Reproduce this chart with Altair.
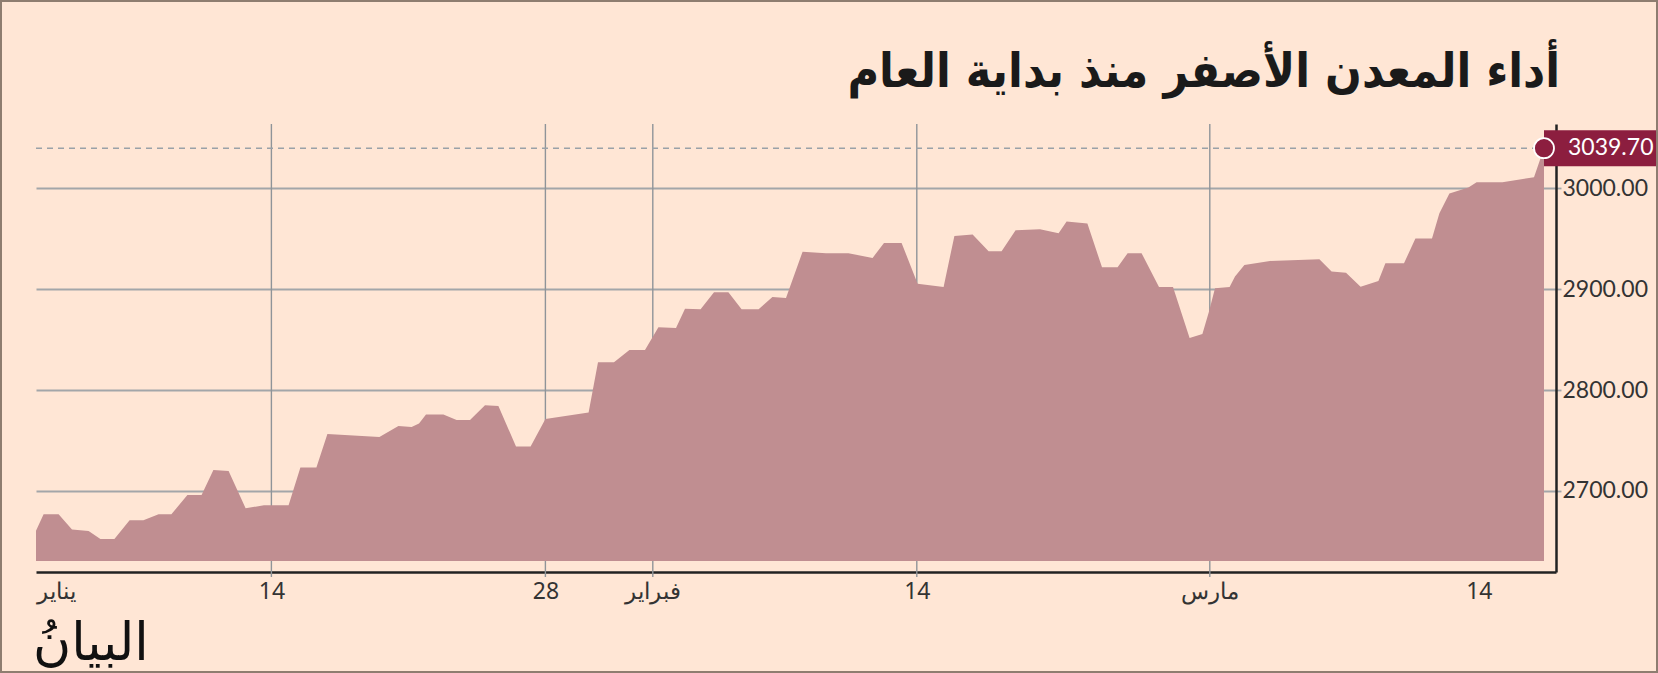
import altair as alt
import pandas as pd

# ---- data ----
# position along the time axis (axis units, Jan 1 = 0) and gold price (USD/oz)
pos = [0, 0.38, 1.13, 1.80, 2.63, 3.22, 3.92, 4.68, 5.37, 6.13, 6.77, 7.57, 8.28,
       8.87, 9.63, 10.48, 11.40, 12.63, 13.22, 14.02, 14.57, 17.17, 18.12, 18.78,
       19.15, 19.50, 20.37, 21.03, 21.70, 22.45, 23.12, 24.00, 24.73, 25.47, 27.63,
       28.10, 28.90, 29.67, 30.45, 31.12, 32.00, 32.45, 33.23, 33.90, 34.62, 35.28,
       36.13, 36.82, 37.50, 38.33, 39.50, 40.62, 41.83, 42.40, 43.28, 44.08, 45.38,
       45.92, 46.83, 47.63, 48.28, 48.98, 50.20, 51.13, 51.53, 52.57, 53.30, 54.08,
       54.58, 55.28, 56.15, 56.85, 57.68, 58.32, 58.65, 58.95, 59.68, 59.95, 60.42,
       61.70, 64.17, 64.78, 65.50, 66.23, 67.12, 67.47, 68.40, 68.97, 69.80, 70.17,
       70.67, 71.62, 72.03, 73.32, 74.90, 75.40]
price = [2660.7, 2676.9, 2676.9, 2661.7, 2660.4, 2652.5, 2652.5, 2671.0, 2671.0,
         2676.9, 2676.9, 2696.1, 2696.1, 2720.8, 2719.9, 2682.9, 2685.8, 2685.8,
         2723.2, 2723.2, 2756.5, 2753.6, 2764.5, 2763.5, 2766.8, 2775.7, 2775.7,
         2770.4, 2770.4, 2784.9, 2784.3, 2744.0, 2744.0, 2771.4, 2777.7, 2827.6,
         2827.6, 2839.8, 2839.8, 2862.2, 2861.6, 2880.7, 2880.1, 2896.9, 2896.9,
         2880.1, 2880.1, 2892.3, 2891.3, 2937.2, 2935.6, 2935.6, 2931.0, 2945.8,
         2945.8, 2905.5, 2902.2, 2952.8, 2954.1, 2937.6, 2937.6, 2958.4, 2959.4,
         2955.4, 2967.0, 2965.0, 2921.7, 2921.7, 2935.6, 2935.6, 2902.2, 2902.2,
         2851.7, 2855.6, 2877.8, 2900.9, 2902.2, 2912.5, 2924.0, 2928.0, 2929.6,
         2917.4, 2916.4, 2902.5, 2908.2, 2925.7, 2925.7, 2950.1, 2950.1, 2975.2,
         2994.7, 3000.7, 3005.9, 3005.9, 3010.9, 3039.70]

tick_pos = [0, 11.77, 25.47, 30.84, 44.04, 58.69, 72.14]
tick_labels = ["يناير", "14", "28", "فبراير", "14", "مارس", "14"]
grid_pos = [11.77, 25.47, 30.84, 44.04, 58.69]
y_ticks = [2700, 2800, 2900, 3000]
baseline_value = 2630.5

title_text = "أداء المعدن الأصفر منذ بداية العام"
logo_text = "البيانُ"

# ---- styling ----
BG = "#FFE6D5"
AREA = "#C08E91"
ACCENT = "#8C1E3F"
GRID = "#A3A6A9"
VGRID = "#8F9499"
INK = "#222222"

W, H = 1520, 448
xs = alt.Scale(domain=[0, 76], nice=False, zero=False)
ys = alt.Scale(domain=[2619.7, 3063.7], nice=False, zero=False)

df = pd.DataFrame({"pos": pos, "price": price})
last = pd.DataFrame({"pos": [pos[-1]], "price": [price[-1]], "start": [pos[0]]})
grid_df = pd.DataFrame({"g": grid_pos})
one = pd.DataFrame({"k": [0]})

# label expression built from the tick arrays
expr = "''"
for i in range(len(tick_pos) - 1, -1, -1):
    if i == len(tick_pos) - 1:
        expr = f"'{tick_labels[i]}'"
    else:
        mid = (tick_pos[i] + tick_pos[i + 1]) / 2
        expr = f"datum.value < {mid:.2f} ? '{tick_labels[i]}' : ({expr})"

x_axis = alt.Axis(
    values=tick_pos, labelExpr=expr, grid=False, ticks=False,
    domainColor=INK, domainWidth=2.5, labelFont="Noto Sans", labelFontSize=23,
    labelColor="#333333", labelPadding=8, labelOverlap=False, labelFlush=False,
    labelAlign=alt.expr("datum.value < 1 ? 'left' : 'center'"), labelBaseline="top",
)
y_axis = alt.Axis(
    orient="right", values=y_ticks, format=".2f", grid=True, gridColor=GRID,
    gridWidth=1.8, tickSize=5, tickColor=GRID, tickWidth=1.8, domainColor=INK,
    domainWidth=2.5, labelFont="Lato", labelFontSize=23, labelColor="#333333",
    labelPadding=1, labelOverlap=False,
)

vrules = alt.Chart(grid_df).mark_rule(color=VGRID, strokeWidth=1.4).encode(
    x=alt.X("g:Q", scale=xs, title=None), y=alt.value(0), y2=alt.value(H + 5)
)

area = alt.Chart(df).mark_area(color=AREA, opacity=1).encode(
    x=alt.X("pos:Q", scale=xs, axis=x_axis, title=None),
    y=alt.Y("price:Q", scale=ys, axis=y_axis, title=None),
    y2=alt.datum(baseline_value),
)

dash = alt.Chart(last).mark_rule(color="#9AA1A8", strokeWidth=1.4, strokeDash=[6, 5]).encode(
    x=alt.X("start:Q", scale=xs, title=None), x2="pos:Q",
    y=alt.Y("price:Q", scale=ys, title=None),
)

box = alt.Chart(last).transform_calculate(
    top="datum.price + 17.8", bot="datum.price - 17.8"
).mark_rect(color=ACCENT).encode(
    x=alt.X("pos:Q", scale=xs, title=None), x2=alt.value(W + 110),
    y=alt.Y("top:Q", scale=ys, title=None), y2="bot:Q",
)

dot = alt.Chart(last).mark_point(
    shape="circle", filled=True, size=400, color=ACCENT, stroke="white",
    strokeWidth=1.8, opacity=1
).encode(
    x=alt.X("pos:Q", scale=xs, title=None), y=alt.Y("price:Q", scale=ys, title=None)
)

val_text = alt.Chart(last).mark_text(
    align="left", baseline="middle", dx=24, font="Lato", fontSize=23, color="white"
).encode(
    x=alt.X("pos:Q", scale=xs, title=None), y=alt.Y("price:Q", scale=ys, title=None),
    text=alt.Text("price:Q", format=".2f"),
)

title = alt.Chart(one).mark_text(
    align="right", baseline="alphabetic", font="DejaVu Sans Condensed, DejaVu Sans",
    fontWeight="bold", fontSize=48, color="#1A1A1A"
).encode(x=alt.value(W + 4), y=alt.value(-37), text=alt.value(title_text))

logo = alt.Chart(one).mark_text(
    align="left", baseline="alphabetic", font="DejaVu Serif, DejaVu Sans",
    fontSize=52, color="#111111"
).encode(x=alt.value(-3), y=alt.value(536), text=alt.value(logo_text))

frame = alt.Chart(one).mark_rect(
    fillOpacity=0, stroke="#8E7D70", strokeWidth=2
).encode(x=alt.value(-35), x2=alt.value(W + 101), y=alt.value(-123), y2=alt.value(H + 100))

chart = alt.layer(vrules, area, dash, box, dot, val_text, title, logo, frame).properties(
    width=W, height=H,
    autosize=alt.AutoSizeParams(type="none"),
    padding={"left": 36, "top": 124, "right": 102, "bottom": 101},
    background=BG,
).configure_view(stroke=None)

chart.save("out.html", embed_options={"renderer": "svg", "actions": False})
